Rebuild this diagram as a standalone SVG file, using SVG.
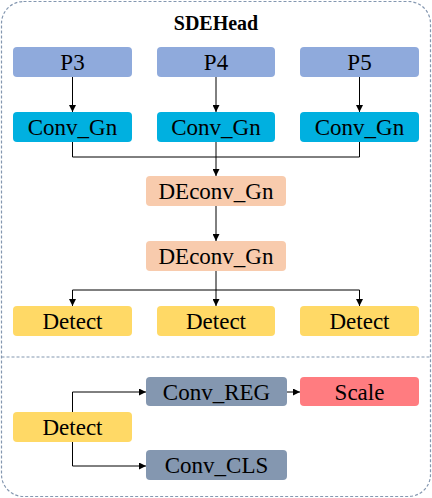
<svg xmlns="http://www.w3.org/2000/svg" width="432" height="498" viewBox="0 0 432 498">
<style>
.t{font-family:"Liberation Serif","Times New Roman",serif;font-size:23px;fill:#000;text-anchor:middle}
.title{font-family:"Liberation Serif","Times New Roman",serif;font-size:20px;font-weight:bold;fill:#000;text-anchor:middle}
.ln{fill:none;stroke:#000;stroke-width:1}
.p{fill:#8FAADC}
.c{fill:#00B0E0}
.d{fill:#F8CBAD}
.det{fill:#FFD966}
.s{fill:#8497B0}
.sc{fill:#FF7C80}
.border{fill:none;stroke:#8497B0;stroke-width:1.2;stroke-dasharray:3 2}
</style>
<defs>
<marker id="ah" viewBox="0 0 10 10" refX="10" refY="5" markerWidth="7" markerHeight="7" markerUnits="userSpaceOnUse" orient="auto">
<path d="M0,0 L10,5 L0,10 z" fill="#000"/>
</marker>
</defs>
<rect class="border" x="1.5" y="1.5" width="429" height="495" rx="22"/>
<line class="border" x1="1.5" y1="357" x2="430.5" y2="357"/>
<text class="title" x="216" y="30">SDEHead</text>
<g id="connectors">
<line class="ln" x1="72.5" y1="77" x2="72.5" y2="112" marker-end="url(#ah)"/>
<line class="ln" x1="216" y1="77" x2="216" y2="112" marker-end="url(#ah)"/>
<line class="ln" x1="359.5" y1="77" x2="359.5" y2="112" marker-end="url(#ah)"/>
<polyline class="ln" points="72.5,142 72.5,157 359.5,157 359.5,142"/>
<line class="ln" x1="216" y1="142" x2="216" y2="176" marker-end="url(#ah)"/>
<line class="ln" x1="216" y1="206" x2="216" y2="241" marker-end="url(#ah)"/>
<line class="ln" x1="216" y1="271" x2="216" y2="306" marker-end="url(#ah)"/>
<polyline class="ln" points="72.5,290 359.5,290 359.5,306" marker-end="url(#ah)"/>
<line class="ln" x1="72.5" y1="290" x2="72.5" y2="306" marker-end="url(#ah)"/>
<polyline class="ln" points="72.5,412 72.5,392 146,392" marker-end="url(#ah)"/>
<polyline class="ln" points="72.5,442 72.5,466 146,466" marker-end="url(#ah)"/>
<line class="ln" x1="287" y1="392" x2="300" y2="392" marker-end="url(#ah)"/>
</g>
<g id="p3"><rect class="p" x="13" y="47" width="119" height="30" rx="4"/><text class="t" x="72.5" y="70">P3</text></g>
<g id="p4"><rect class="p" x="157" y="47" width="118" height="30" rx="4"/><text class="t" x="216" y="70">P4</text></g>
<g id="p5"><rect class="p" x="300" y="47" width="119" height="30" rx="4"/><text class="t" x="359.5" y="70">P5</text></g>
<g id="conv1"><rect class="c" x="13" y="112" width="119" height="30" rx="4"/><text class="t" x="72.5" y="135">Conv_Gn</text></g>
<g id="conv2"><rect class="c" x="157" y="112" width="118" height="30" rx="4"/><text class="t" x="216" y="135">Conv_Gn</text></g>
<g id="conv3"><rect class="c" x="300" y="112" width="119" height="30" rx="4"/><text class="t" x="359.5" y="135">Conv_Gn</text></g>
<g id="deconv1"><rect class="d" x="146" y="176" width="140" height="30" rx="4"/><text class="t" x="216" y="199">DEconv_Gn</text></g>
<g id="deconv2"><rect class="d" x="146" y="241" width="140" height="30" rx="4"/><text class="t" x="216" y="264">DEconv_Gn</text></g>
<g id="detect1"><rect class="det" x="13" y="306" width="119" height="30" rx="4"/><text class="t" x="72.5" y="329">Detect</text></g>
<g id="detect2"><rect class="det" x="157" y="306" width="118" height="30" rx="4"/><text class="t" x="216" y="329">Detect</text></g>
<g id="detect3"><rect class="det" x="300" y="306" width="119" height="30" rx="4"/><text class="t" x="359.5" y="329">Detect</text></g>
<g id="detect4"><rect class="det" x="13" y="412" width="119" height="30" rx="4"/><text class="t" x="72.5" y="435">Detect</text></g>
<g id="convreg"><rect class="s" x="146" y="377" width="141" height="29" rx="4"/><text class="t" x="216.5" y="399.5">Conv_REG</text></g>
<g id="scale"><rect class="sc" x="300" y="377" width="119" height="29" rx="4"/><text class="t" x="359.5" y="399.5">Scale</text></g>
<g id="convcls"><rect class="s" x="146" y="450" width="141" height="30" rx="4"/><text class="t" x="216.5" y="473">Conv_CLS</text></g>
</svg>
